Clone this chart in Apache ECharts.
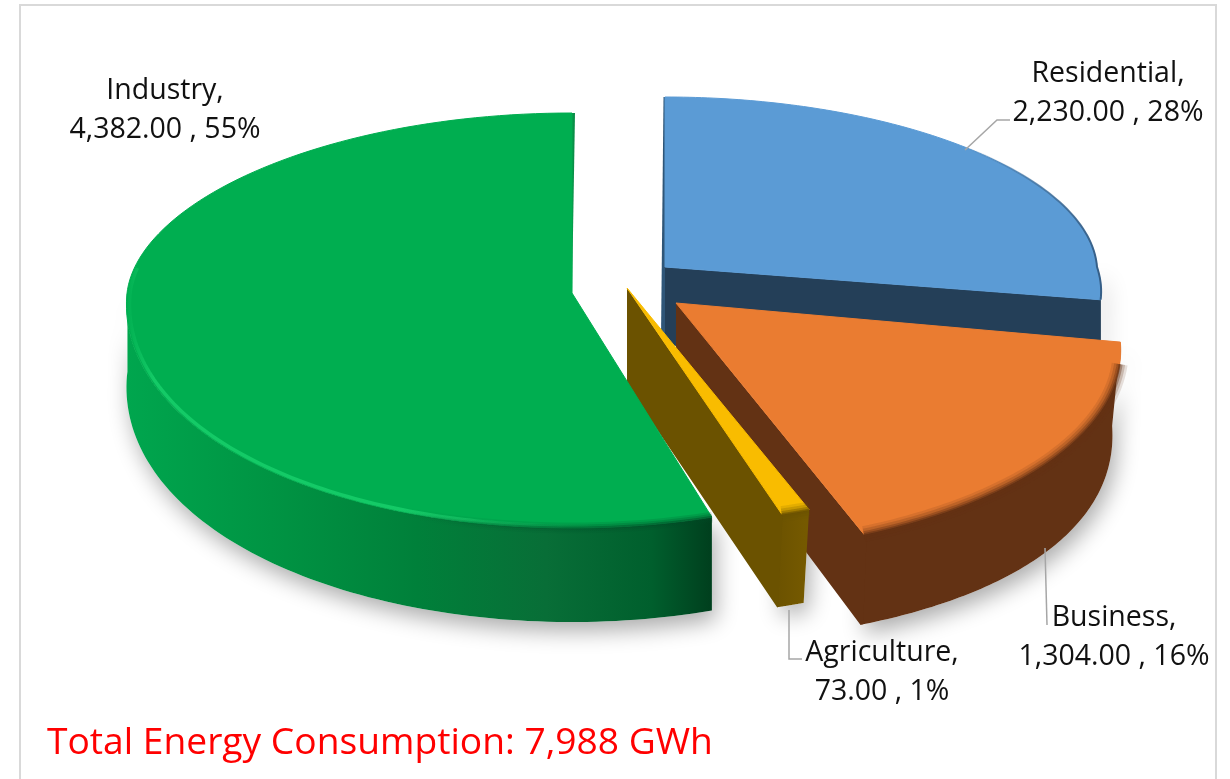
<!DOCTYPE html>
<html><head><meta charset="utf-8">
<style>html,body{margin:0;padding:0;background:#fff}#c{width:1230px;height:779px}</style>
<script src="https://cdn.jsdelivr.net/npm/echarts@6/dist/echarts.min.js"></script>
</head><body><div id="c"></div>
<script>
const categories = ['Residential', 'Business', 'Agriculture', 'Industry'];
const consumption = [2230, 1304, 73, 4382];
const titleText = 'Total Energy Consumption: 7,988 GWh';

const FONT = '"Open Sans", sans-serif';
const total = consumption.reduce((a, b) => a + b, 0);
const fmt = v => v.toLocaleString('en-US', {minimumFractionDigits: 2, maximumFractionDigits: 2});
const rad = d=>d*Math.PI/180;

// projection of each exploded slice (top face and bottom face ellipses, perspective gains)
const views = [
  {cx:665, cy:267, R:432, Rb:170, Rf:180, q:0, kb:.03, k:.14, bx:665, by:345, R2:432, Rb2:240, Rf2:200,
   top:'#5B9BD5', face:'#243F58', wall:['#243F58','#243F58'], wx:[660,1100], wallFrom:rad(88)},
  {cx:676, cy:303, R:433, Rb:170, Rf:207, q:43, kb:.24, k:.24, bx:676, by:378, R2:425, Rb2:170, Rf2:264,
   top:'#EA7C31', face:'#633214', wall:['#633214','#633214'], wx:[860,1120], band:'102,50,20'},
  {cx:627, cy:288, R:433, Rb:170, Rf:237, q:0, kb:.2, k:.2, bx:627, by:385, R2:420, Rb2:170, Rf2:233,
   top:'#F9BC00', face:'#6B5200', wall:['#6B5200','#755900'], wx:[775,805], band:'107,82,0'},
  {cx:572, cy:293, R:445, Rb:180, Rf:235, q:0, kb:.05, k:.05, bx:572, by:375, R2:445, Rb2:180, Rf2:247,
   top:'#00AE50', face:null, wx:[125,710], wallTo:rad(271)}
];
const industryStops = [
  {offset:0,color:'#00A64E'},{offset:.25,color:'#009443'},{offset:.5,color:'#00803A'},
  {offset:.72,color:'#086E37'},{offset:.9,color:'#005F2D'},{offset:1,color:'#00401E'}];

// label anchors and leader lines
const labelPos = [[1108,93],[1114,637],[882,672],[165,110]];
const leaders = [
  [[965,150],[997,120],[1010,120]],
  [[1045,548],[1047,625]],
  [[789,610],[789,659],[802,659]],
  null];

function sliceAngles(i){
  let a = 0; for(let j=0;j<i;j++) a += consumption[j];
  const s = 2*Math.PI/total;
  return [a*s, (a+consumption[i])*s];
}
const topPt = (g,t)=>{const u=Math.sin(t),v=Math.cos(t);
  const ry = v>0 ? g.Rb : g.Rf + g.q*Math.abs(v);
  return [g.cx+u*g.R*(1-(v>0?g.kb:g.k)*v), g.cy-v*ry];};
const botPt = (g,t)=>{const u=Math.sin(t),v=Math.cos(t);
  return [g.bx+u*g.R2*(1-(v>0?g.kb:g.k)*v), g.by-v*(v>0?g.Rb2:g.Rf2)];};
function arc(fn,g,a,b,n){const o=[];for(let i=0;i<=n;i++)o.push(fn(g,a+(b-a)*i/n));return o;}

function wallPoints(g,a,b){
  const s = g.wallFrom===undefined?a:g.wallFrom, e = g.wallTo===undefined?b:g.wallTo;
  return arc(topPt,g,s,e,90).concat(arc(botPt,g,s,e,90).reverse());
}
function wallFill(i,g){
  if(i===3) return new echarts.graphic.LinearGradient(g.wx[0],0,g.wx[1],0,industryStops,true);
  return new echarts.graphic.LinearGradient(g.wx[0],0,g.wx[1],0,
    [{offset:0,color:g.wall[0]},{offset:1,color:g.wall[1]}],true);
}

function renderShadow(params, api){
  const i = params.dataIndex, g = views[i], [a,b] = sliceAngles(i);
  return {type:'group',silent:true,children:[
    {type:'polygon',shape:{points:wallPoints(g,a,b)},
     style:{fill:'#fff',shadowBlur:22,shadowColor:'rgba(0,0,0,.33)',shadowOffsetX:4,shadowOffsetY:9}}
  ]};
}

function renderSlice(params, api){
  const i = params.dataIndex, g = views[i], [a,b] = sliceAngles(i);
  const apex=[g.cx,g.cy], apexB=[g.bx,g.by];
  const kids=[];
  kids.push({type:'polygon',shape:{points:wallPoints(g,a,b)},style:{fill:wallFill(i,g)}});
  if(g.face){
    const ov = i===2 ? .002 : .006;
    kids.push({type:'polygon',shape:{points:[apex,topPt(g,b),topPt(g,b-ov),botPt(g,b-ov),botPt(g,b),apexB]},
      style:{fill:g.face}});
  }
  if(i===0){
    const p=topPt(g,a);
    kids.push({type:'polygon',shape:{points:[[p[0]-1.5,p[1]],p,apex,[apex[0],apex[1]+70],[apex[0]-4,apex[1]+70]]},style:{fill:'#2F5678'}});
  }
  if(i===3){
    const p=topPt(g,b);
    kids.push({type:'polygon',shape:{points:[p,[p[0]+3,p[1]],apex]},style:{fill:'#0A8F48'}});
  }
  kids.push({type:'polygon',shape:{points:[apex].concat(arc(topPt,g,a,b,120))},
    style:{fill:g.top,stroke:g.top,lineWidth:1,lineJoin:'round'}});
  // bevel
  if(i===0){
    kids.push({type:'polyline',shape:{points:arc(topPt,g,rad(42),b,50)},
      style:{fill:null,lineWidth:2,stroke:new echarts.graphic.LinearGradient(960,0,1100,0,[
        {offset:0,color:'rgba(63,106,147,0)'},{offset:.6,color:'rgba(63,106,147,.7)'},{offset:1,color:'rgba(50,90,130,.95)'}],true)}});
  }
  if(g.band){
    const t0 = i===1 ? a+.1 : a, pts = arc(topPt,g,t0,b,70);
    [[16,.14],[11,.22],[6,.38],[2,.6]].forEach(([w,al])=>{
      kids.push({type:'polyline',shape:{points:pts},
        style:{fill:null,stroke:'rgba('+g.band+','+al+')',lineWidth:w}});
    });
  }
  if(i===3){
    const stops = c=>[{offset:0,color:c(0)},{offset:.05,color:c(.9)},{offset:.58,color:c(.9)},{offset:.72,color:c(.3)},{offset:.8,color:c(0)}];
    kids.push({type:'polyline',shape:{points:arc(topPt,{...g,R:g.R-3,Rf:g.Rf-2},rad(163),rad(278),120)},
      style:{fill:null,lineWidth:3.5,stroke:new echarts.graphic.LinearGradient(125,0,710,0,stops(al=>'rgba(22,205,105,'+al+')'),true)}});
    const front = arc(topPt,g,a,rad(205),40);
    [[11,.16],[7,.24],[3,.45]].forEach(([w,al])=>{
      kids.push({type:'polyline',shape:{points:front},
        style:{fill:null,lineWidth:w,stroke:new echarts.graphic.LinearGradient(400,0,710,0,[
          {offset:0,color:'rgba(0,90,45,0)'},{offset:.5,color:'rgba(0,90,45,'+al+')'},{offset:1,color:'rgba(0,70,35,'+al+')'}],true)}});
    });
  }
  if(leaders[i]){
    kids.push({type:'polyline',shape:{points:leaders[i]},style:{fill:null,stroke:'#A6A6A6',lineWidth:1.5}});
  }
  const pct = Math.round(consumption[i]/total*100);
  kids.push({type:'text',x:labelPos[i][0],y:labelPos[i][1],style:{
    text:categories[i]+',\n'+fmt(consumption[i])+' , '+pct+'%',
    font:'28.5px '+FONT,fill:'#111',align:'center',verticalAlign:'middle',lineHeight:39}});
  return {type:'group',silent:true,children:kids};
}

const chart = echarts.init(document.getElementById('c'),null,{renderer:'canvas'});
const rows = categories.map((c,i)=>({name:c,value:consumption[i]}));
chart.setOption({
  animation:false,
  backgroundColor:'#fff',
  graphic:[
    {type:'polyline',silent:true,shape:{points:[[20,779],[20,5],[1216,5],[1216,779]]},
     style:{fill:null,stroke:'#D9D9D9',lineWidth:2}},
    {type:'text',silent:true,x:47,y:743,z:10,style:{text:titleText,font:'37.2px '+FONT,fill:'#FF0000',align:'left',verticalAlign:'middle'}}
  ],
  series:[
    {type:'custom',coordinateSystem:'none',renderItem:renderShadow,data:rows,z:1},
    {type:'custom',coordinateSystem:'none',renderItem:renderSlice,data:rows,z:2}
  ]
});
</script></body></html>
